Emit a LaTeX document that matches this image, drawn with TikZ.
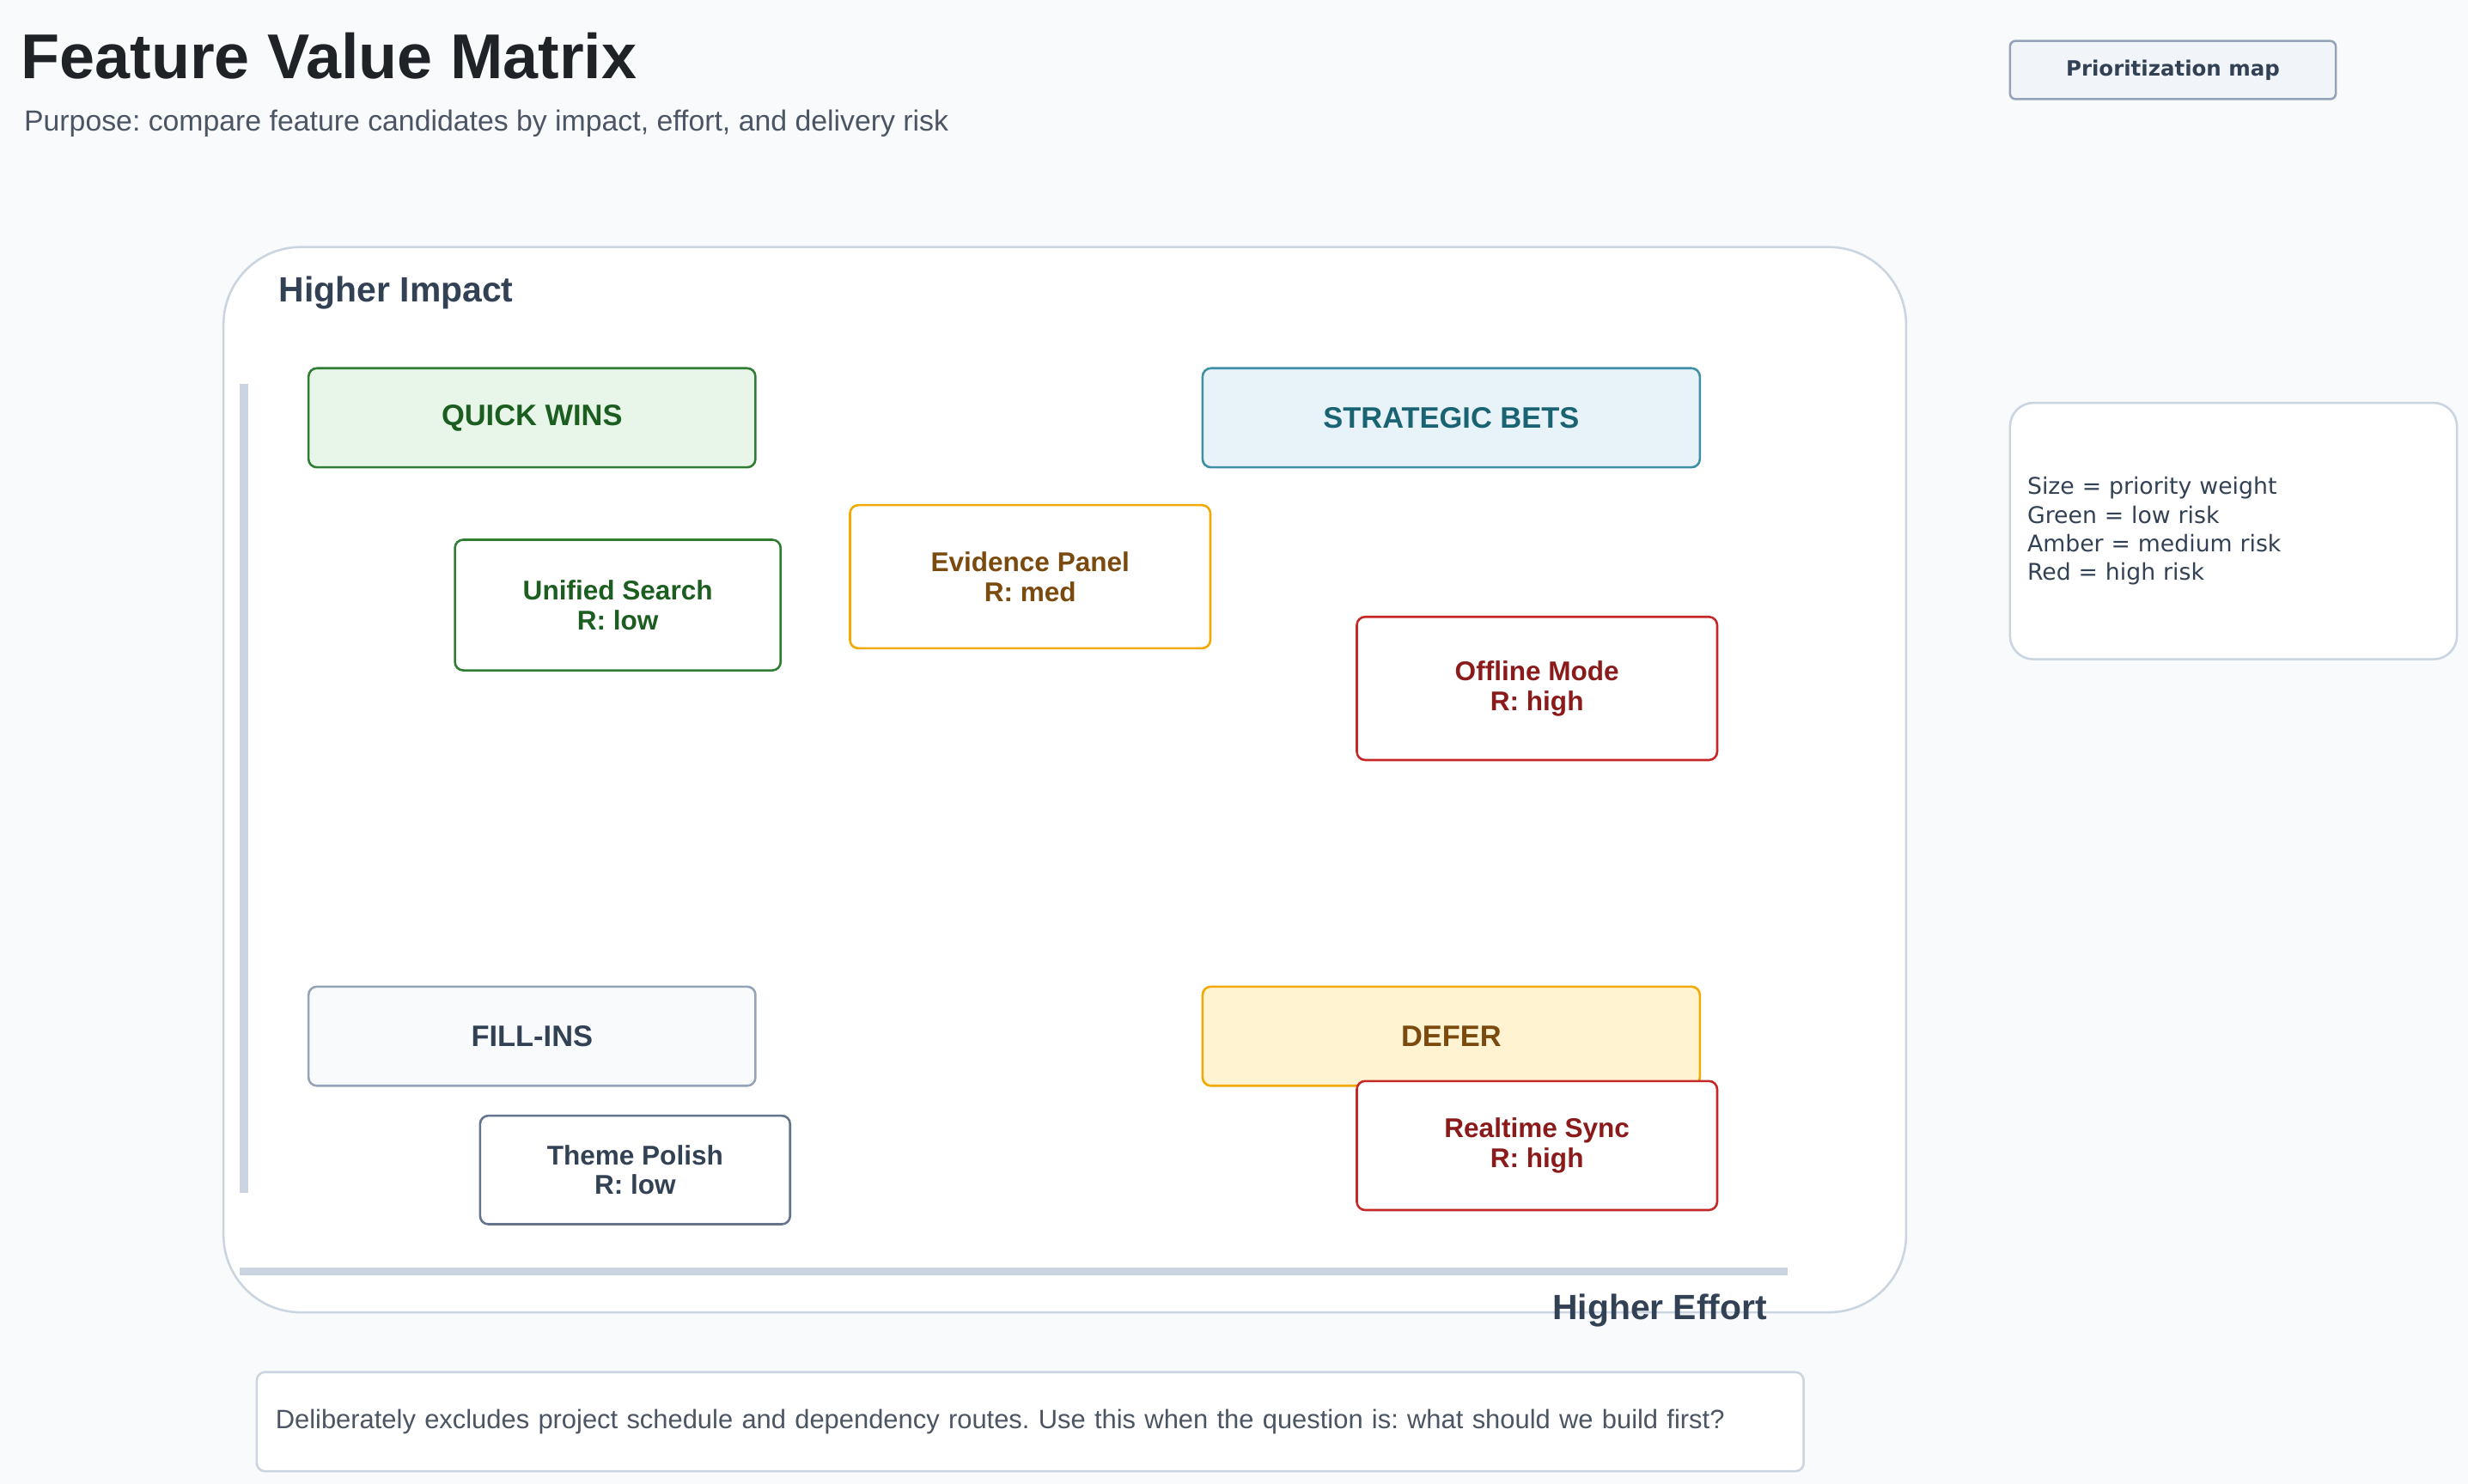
\documentclass[tikz,border=0pt]{standalone}
\usepackage{fontspec}
\setmainfont{Liberation Sans}
\newfontfamily\legendfont{DejaVu Sans}
\frenchspacing
\definecolor{pagebg}{HTML}{F8FAFC}
\definecolor{badgefill}{HTML}{F1F5F9}
\definecolor{lineclr}{HTML}{CBD5E1}
\definecolor{inkclr}{HTML}{334155}
\definecolor{titleclr}{HTML}{1F2328}
\definecolor{greyclr}{HTML}{4B5563}
\definecolor{grnline}{HTML}{2E7D32}
\definecolor{grnfill}{HTML}{E8F5E9}
\definecolor{grnink}{HTML}{1B5E20}
\definecolor{tealline}{HTML}{3F8FA6}
\definecolor{tealfill}{HTML}{E7F3F8}
\definecolor{tealink}{HTML}{1A6373}
\definecolor{slateline}{HTML}{94A3B8}
\definecolor{slateink}{HTML}{64748B}
\definecolor{ambline}{HTML}{F2A900}
\definecolor{ambfill}{HTML}{FFF3D1}
\definecolor{ambink}{HTML}{7A4A0E}
\definecolor{redline}{HTML}{C62828}
\definecolor{redink}{HTML}{8B1A1A}
\tikzset{
  quadbox/.style={draw, line width=0.8pt, rounded corners=3pt, minimum height=1.26cm,
    font=\fontsize{10.7}{12}\selectfont\bfseries, inner sep=0pt},
  itembox/.style={draw, fill=white, line width=0.8pt, rounded corners=3pt, align=center,
    minimum width=4.58cm, font=\fontsize{9.8}{10.8}\selectfont\bfseries, inner sep=0pt},
  axislbl/.style={text=inkclr, font=\fontsize{12.7}{14}\selectfont\bfseries, inner sep=0pt},
  axisline/.style={draw=lineclr, line width=2.85pt}
}
\begin{document}
\begin{tikzpicture}[x=0.02cm, y=-0.02cm]
\fill[pagebg] (0,0) rectangle (1568,943);
\useasboundingbox (0,0) rectangle (1568,943);

%titel och syfte
\node[anchor=base west, inner sep=0pt, text=titleclr, font=\fontsize{22.9}{26}\selectfont\bfseries] (title) at (13,50) {Feature Value Matrix};
\node[anchor=base west, inner sep=0pt, text=greyclr, font=\fontsize{10.5}{12}\selectfont] (purpose) at (15,83) {Purpose: compare feature candidates by impact, effort, and delivery risk};

%ruta uppe till höger
\node[draw=slateline, fill=badgefill, line width=0.8pt, rounded corners=2pt, minimum width=4.14cm, minimum height=0.74cm, text=inkclr, font=\legendfont\fontsize{7.6}{9}\selectfont\bfseries] (badge) at (1380.5,44.5) {Prioritization map};

%förklaring
\node[draw=lineclr, fill=white, line width=0.8pt, rounded corners=8.5pt, minimum width=5.68cm, minimum height=3.26cm, text width=5.24cm, inner xsep=0.22cm, align=left, text=inkclr, font=\legendfont\fontsize{8.3}{10.4}\selectfont] (legend) at (1419,337.5) {Size = priority weight\\Green = low risk\\Amber = medium risk\\Red = high risk};

%matrisens panel
\draw[draw=lineclr, fill=white, line width=0.8pt, rounded corners=28pt] (142,157) rectangle (1211,834);
\node[axislbl, anchor=west] (impact) at (177,186) {Higher Impact};
\draw[axisline] (155,244) -- (155,758); %y-axel
\draw[axisline] (152,808) -- (1136,808); %x-axel
\node[axislbl, anchor=east] (effort) at (1123,833) {Higher Effort};

%kvadranter
\node[quadbox, draw=grnline, fill=grnfill, text=grnink, minimum width=5.68cm] (quick) at (338,265.5) {QUICK WINS};
\node[quadbox, draw=tealline, fill=tealfill, text=tealink, minimum width=6.32cm] (strat) at (922,265.5) {STRATEGIC BETS};
\node[quadbox, draw=slateline, fill=pagebg, text=inkclr, minimum width=5.68cm] (fill) at (338,658.5) {FILL-INS};
\node[quadbox, draw=ambline, fill=ambfill, text=ambink, minimum width=6.32cm] (defer) at (922,658.5) {DEFER};

%funktioner
\node[itembox, draw=grnline, text=grnink, minimum width=4.14cm, minimum height=1.66cm] (search) at (392.5,384.5) {Unified Search\\R: low};
\node[itembox, draw=ambline, text=ambink, minimum height=1.82cm] (evidence) at (654.5,366.5) {Evidence Panel\\R: med};
\node[itembox, draw=redline, text=redink, minimum height=1.82cm] (offline) at (976.5,437.5) {Offline Mode\\R: high};
\node[itembox, draw=slateink, text=inkclr, minimum width=3.94cm, minimum height=1.38cm] (theme) at (403.5,743.5) {Theme Polish\\R: low};
\node[itembox, draw=redline, text=redink, minimum height=1.64cm] (realtime) at (976.5,728) {Realtime Sync\\R: high};

%notering
\node[draw=lineclr, fill=white, line width=0.8pt, rounded corners=3pt, minimum width=19.66cm, minimum height=1.26cm, text width=19.18cm, inner xsep=0.24cm, align=left, text=greyclr, font=\fontsize{9.6}{11}\selectfont] (note) at (654.5,903.5) {Deliberately excludes project schedule and dependency routes. Use this when the question is: what should we build first?};
\end{tikzpicture}
\end{document}
